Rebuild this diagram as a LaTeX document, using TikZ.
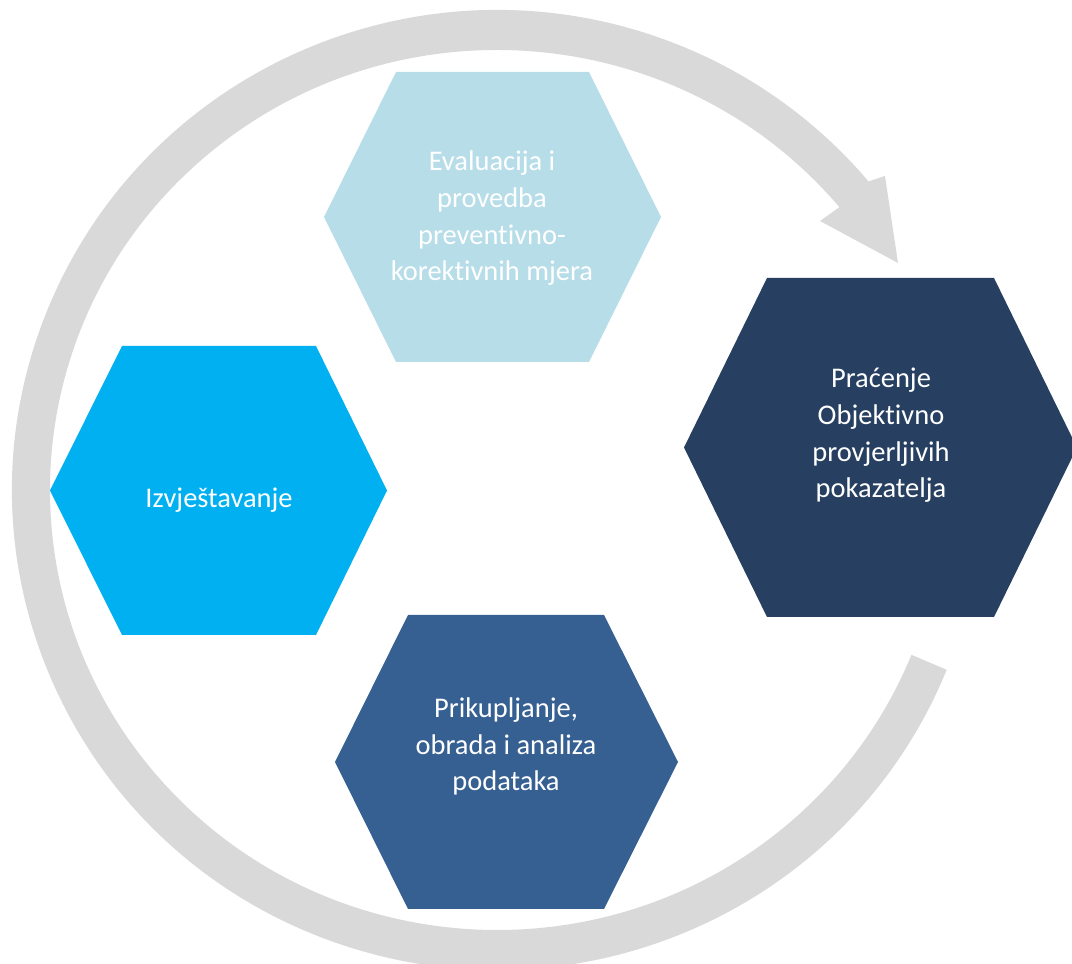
\documentclass[tikz,border=0pt]{standalone}
\usepackage{fontspec}
\setmainfont{Carlito}[Ligatures=NoCommon]
\usepackage{xcolor}
\usepackage{tikz}
\definecolor{ringgray}{RGB}{217,217,217}
\definecolor{evallight}{RGB}{183,221,232}
\definecolor{izvjblue}{RGB}{0,176,240}
\definecolor{pracnavy}{RGB}{39,64,97}
\definecolor{prikupblue}{RGB}{54,96,146}

\begin{document}
\begin{tikzpicture}[x=0.01cm,y=-0.01cm,
  lbl/.style={text=white,align=center,anchor=base,inner sep=0pt,
    font=\fontsize{8.1}{10.5}\selectfont}]
\useasboundingbox (0,0) rectangle (1072,964);
% ring with arrow head
\fill[ringgray] ([shift={(22:485 and 480)}]497,490)
  arc[start angle=22,end angle=320,x radius=485,y radius=480]
  -- (885,176) -- (898,263) -- (820,221)
  -- ([shift={(320:447 and 440)}]497,490)
  arc[start angle=320,end angle=22,x radius=447,y radius=440]
  -- cycle;
% hexagons
\fill[evallight] (396,72) -- (589,72) -- (661,217) -- (589,362) -- (396,362) -- (324,217) -- cycle;
\fill[pracnavy] (767,278) -- (994,278) -- (1077,447.5) -- (994,617) -- (767,617) -- (684,447.5) -- cycle;
\fill[izvjblue] (122,346) -- (316,346) -- (387,490.5) -- (316,635) -- (122,635) -- (50,490.5) -- cycle;
\fill[prikupblue] (408,615) -- (604,615) -- (678,762) -- (604,909) -- (408,909) -- (335,762) -- cycle;
% labels (base = last line)
\node[lbl] (eval) at (492,281) {Evaluacija i\\provedba\\preventivno-\\korektivnih mjera};
\node[lbl] (prac) at (881,498) {Praćenje\\Objektivno\\provjerljivih\\pokazatelja};
\node[lbl] (izvj) at (219,508) {Izvještavanje};
\node[lbl] (prikup) at (506,791) {Prikupljanje,\\obrada i analiza\\podataka};
\end{tikzpicture}
\end{document}
